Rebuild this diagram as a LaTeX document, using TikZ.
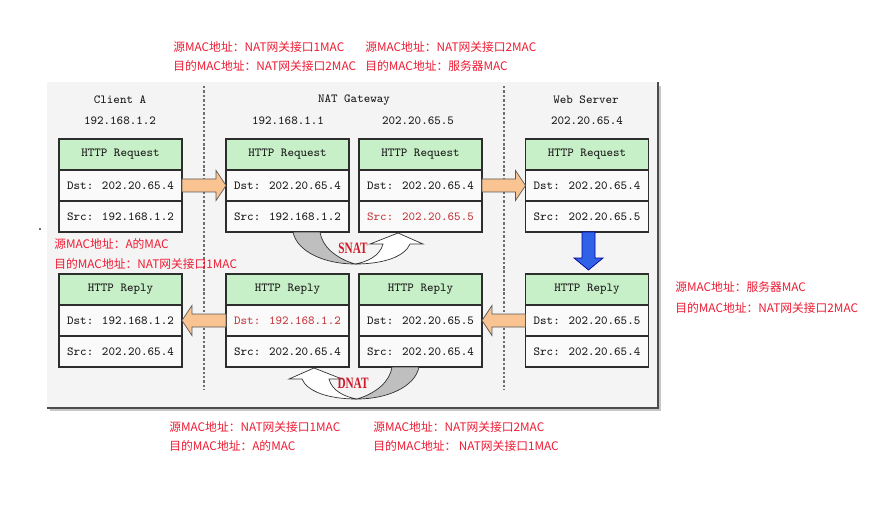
\documentclass[tikz,border=0pt]{standalone}
\usepackage{fontspec}
\usepackage{tikz}
\usetikzlibrary{arrows.meta,positioning,calc}
\newfontfamily\cjk{Noto Sans CJK SC}
\newfontfamily\natserif{Liberation Serif}
\definecolor{inkText}{RGB}{25, 25, 25}
\definecolor{inkRule}{RGB}{45, 45, 45}
\definecolor{panelGray}{RGB}{244, 244, 244}
\definecolor{headGreen}{RGB}{200, 240, 200}
\definecolor{rowWhite}{RGB}{250, 250, 250}
\definecolor{macRed}{RGB}{238, 28, 52}
\definecolor{ipRed}{RGB}{195, 55, 60}
\definecolor{natRed}{RGB}{205, 25, 40}
\definecolor{flowOrange}{RGB}{249, 196, 145}
\definecolor{flowBlue}{RGB}{48, 98, 232}
\definecolor{sepGray}{RGB}{110, 110, 110}

\tikzset{
  pkthead/.style={draw=inkRule, fill=headGreen, line width=0.6pt, minimum width=2.46cm, minimum height=0.62cm,
    inner sep=0pt, outer sep=0pt, font=\ttfamily\fontsize{7pt}{8pt}\selectfont, text=inkText},
  pktrow/.style={pkthead, fill=rowWhite},
  hostlbl/.style={font=\ttfamily\fontsize{7pt}{8pt}\selectfont, text=inkText, inner sep=0pt},
  maclbl/.style={anchor=west, inner sep=0pt, font=\cjk\fontsize{6.7pt}{8pt}\selectfont, text=macRed},
  natlbl/.style={font=\natserif\bfseries\fontsize{9pt}{10pt}\selectfont, text=natRed, inner sep=0pt},
  flow/.style={draw=black!65, fill=flowOrange, line width=0.4pt},
  flowdown/.style={draw=blue!60!black, fill=flowBlue, line width=0.4pt},
  natback/.style={draw=black!80, fill=black!25, line width=0.4pt},
  natfront/.style={draw=black!80, fill=white, line width=0.4pt},
  hostsep/.style={draw=sepGray, line width=0.8pt, dash pattern=on 1.4pt off 1.1pt}
}

\newcommand{\pktbox}[5]{%
  \node[pkthead] (#1h) at (#2) {#3};
  \node[pktrow, below=0pt of #1h] (#1d) {#4};
  \node[pktrow, below=0pt of #1d] (#1s) {#5};}

\newcommand{\flowarrow}[3]{%
  \filldraw[flow] ($(#1)+(0,-6.5)$) -- ($(#2)+(#3,-6.5)$) -- ($(#2)+(#3,-15)$) -- (#2)
    -- ($(#2)+(#3,15)$) -- ($(#2)+(#3,6.5)$) -- ($(#1)+(0,6.5)$) -- cycle;}

\newcommand{\natturn}{%
  \filldraw[natback] (-62,-32) .. controls (-58,-12) and (-30,0) .. (0,0)
    .. controls (-20,-6) and (-33,-18) .. (-35,-32) -- cycle;
  \filldraw[natfront] (0,0) .. controls (30,0) and (50,-8) .. (55,-20) -- (68,-20) -- (43,-31)
    -- (15,-20) -- (28,-20) .. controls (25,-8) and (12,-2) .. (0,0) -- cycle;}

\begin{document}
\begin{tikzpicture}[x=0.02cm, y=-0.02cm]
  \useasboundingbox (0,0) rectangle (895,504);
  \fill[white] (0,0) rectangle (895,504);

  \fill[panelGray] (47,82) rectangle (658,408);
  \draw[black!22, line width=1.4pt] (50,410) -- (660,410) -- (660,86);
  \draw[black!70, line width=0.8pt] (47,408) -- (658,408) -- (658,82);
  \draw[hostsep] (204,86) -- (204,390);
  \draw[hostsep] (504,86) -- (504,390);
  \fill[black!75] (40,229) circle[radius=0.7pt];

  \node[hostlbl] (cliName) at (120,100) {Client A};
  \node[hostlbl] (cliIp) at (120,121) {192.168.1.2};
  \node[hostlbl] (natName) at (354,100) {NAT Gateway};
  \node[hostlbl] (natIpL) at (288,121) {192.168.1.1};
  \node[hostlbl] (natIpR) at (418,121) {202.20.65.5};
  \node[hostlbl] (webName) at (586,100) {Web Server};
  \node[hostlbl] (webIp) at (587,121) {202.20.65.4};

  \pktbox{cliReq}{120.5,154.5}{HTTP Request}{Dst: 202.20.65.4}{Src: 192.168.1.2}
  \pktbox{natReqL}{287.5,154.5}{HTTP Request}{Dst: 202.20.65.4}{Src: 192.168.1.2}
  \pktbox{natReqR}{420.5,154.5}{HTTP Request}{Dst: 202.20.65.4}{\color{ipRed}Src: 202.20.65.5}
  \pktbox{webReq}{587,154.5}{HTTP Request}{Dst: 202.20.65.4}{Src: 202.20.65.5}
  \pktbox{cliRep}{120.5,289.5}{HTTP Reply}{Dst: 192.168.1.2}{Src: 202.20.65.4}
  \pktbox{natRepL}{287.5,289.5}{HTTP Reply}{\color{ipRed}Dst: 192.168.1.2}{Src: 202.20.65.4}
  \pktbox{natRepR}{420.5,289.5}{HTTP Reply}{Dst: 202.20.65.5}{Src: 202.20.65.4}
  \pktbox{webRep}{587,289.5}{HTTP Reply}{Dst: 202.20.65.5}{Src: 202.20.65.4}

  \flowarrow{cliReqd.east}{natReqLd.west}{-10}
  \flowarrow{natReqRd.east}{webReqd.west}{-10}
  \flowarrow{webRepd.west}{natRepRd.east}{10}
  \flowarrow{natRepLd.west}{cliRepd.east}{10}
  \filldraw[flowdown] ($(webReqs.south)+(-5,0)$) -- ($(webReqs.south)+(8,0)$) -- ($(webReph.north)+(8,-16)$)
    -- ($(webReph.north)+(16,-16)$) -- ($(webReph.north)+(1.5,-4)$) -- ($(webReph.north)+(-13,-16)$)
    -- ($(webReph.north)+(-5,-16)$) -- cycle;

  \begin{scope}[shift={(355,264)}]
    \natturn
  \end{scope}
  \begin{scope}[shift={(357,399)}, xscale=-1]
    \natturn
  \end{scope}
  \node[natlbl] (snat) at (353,248) {\scalebox{0.71}[1]{SNAT}};
  \node[natlbl] (dnat) at (353,383) {\scalebox{0.71}[1]{DNAT}};

  \node[maclbl] (lblReqA1) at (173,47) {源MAC地址：NAT网关接口1MAC};
  \node[maclbl] (lblReqA2) at (173,66) {目的MAC地址：NAT网关接口2MAC};
  \node[maclbl] (lblReqB1) at (365,47) {源MAC地址：NAT网关接口2MAC};
  \node[maclbl] (lblReqB2) at (365,66) {目的MAC地址：服务器MAC};
  \node[maclbl] (lblCli1) at (54,244) {源MAC地址：A的MAC};
  \node[maclbl] (lblCli2) at (54,264) {目的MAC地址：NAT网关接口1MAC};
  \node[maclbl] (lblWeb1) at (675,287) {源MAC地址：服务器MAC};
  \node[maclbl] (lblWeb2) at (675,308) {目的MAC地址：NAT网关接口2MAC};
  \node[maclbl] (lblRepA1) at (169,427) {源MAC地址：NAT网关接口1MAC};
  \node[maclbl] (lblRepA2) at (169,446) {目的MAC地址：A的MAC};
  \node[maclbl] (lblRepB1) at (373,427) {源MAC地址：NAT网关接口2MAC};
  \node[maclbl] (lblRepB2) at (373,446) {目的MAC地址： NAT网关接口1MAC};
\end{tikzpicture}
\end{document}
